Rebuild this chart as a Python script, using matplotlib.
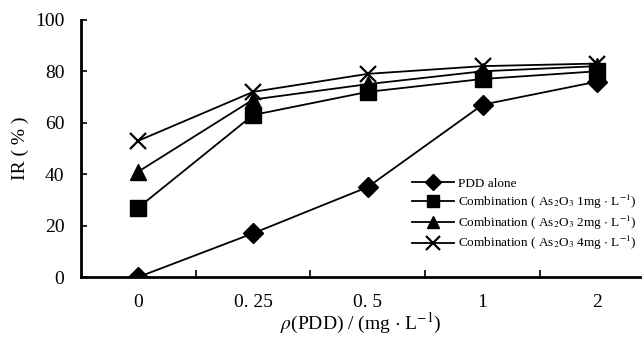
import matplotlib
matplotlib.use("Agg")
import matplotlib.pyplot as plt
import numpy as np

plt.rcParams['font.family'] = ['Liberation Serif', 'DejaVu Serif']
plt.rcParams['mathtext.fontset'] = 'stix'

# ---------------------- data ----------------------
doses = ['0', '0. 25', '0. 5', '1', '2']
pdd_alone = [0, 17, 35, 67, 76]
comb_1mg = [27, 63, 72, 77, 80]
comb_2mg = [41, 69, 75, 80, 82]
comb_4mg = [53, 72, 79, 82, 83]

labels = ['PDD alone',
          r'Combination ( As$_2$O$_3$ 1mg $\cdot$ L$^{-1}$)',
          r'Combination ( As$_2$O$_3$ 2mg $\cdot$ L$^{-1}$)',
          r'Combination ( As$_2$O$_3$ 4mg $\cdot$ L$^{-1}$)']
markers = ['D', 's', '^', 'x']
sizes = [10, 11, 11, 12]

fig = plt.figure(figsize=(6.43, 3.42), dpi=100)
ax = fig.add_axes([0.126, 0.19, 0.869, 0.752])

x = np.arange(len(doses))
for ys, lab, m, ms in zip([pdd_alone, comb_1mg, comb_2mg, comb_4mg], labels, markers, sizes):
    ax.plot(x, ys, color='black', lw=1.3, marker=m, markersize=ms,
            markeredgewidth=1.6 if m == 'x' else 1.0, label=lab)

ax.set_xlim(-0.5, 4.37)
ax.set_ylim(0, 100)
ax.set_yticks(range(0, 101, 20))
ax.set_xticks(x)
ax.set_xticklabels(doses)
ax.set_xticks(x[:-1] + 0.5, minor=True)
ax.tick_params(axis='x', which='major', length=0, pad=12, labelsize=14)
ax.tick_params(axis='x', which='minor', direction='in', length=5, width=1.2)
ax.tick_params(axis='y', direction='in', length=4, width=1.2, pad=12, labelsize=14)

for side in ['top', 'right']:
    ax.spines[side].set_visible(False)
for side in ['left', 'bottom']:
    ax.spines[side].set_linewidth(2)

ax.set_ylabel('IR ( % )', fontsize=14, labelpad=4)
ax.set_xlabel(r'$\rho$(PDD) / (mg $\cdot$ L$^{-1}$)', fontsize=14, labelpad=0)

ax.legend(loc='lower right', bbox_to_anchor=(1.015, 0.05), frameon=False,
          fontsize=9.5, handlelength=3.2, handletextpad=0.3, labelspacing=0.2,
          markerscale=0.85)

fig.savefig('out.png', dpi=100)
